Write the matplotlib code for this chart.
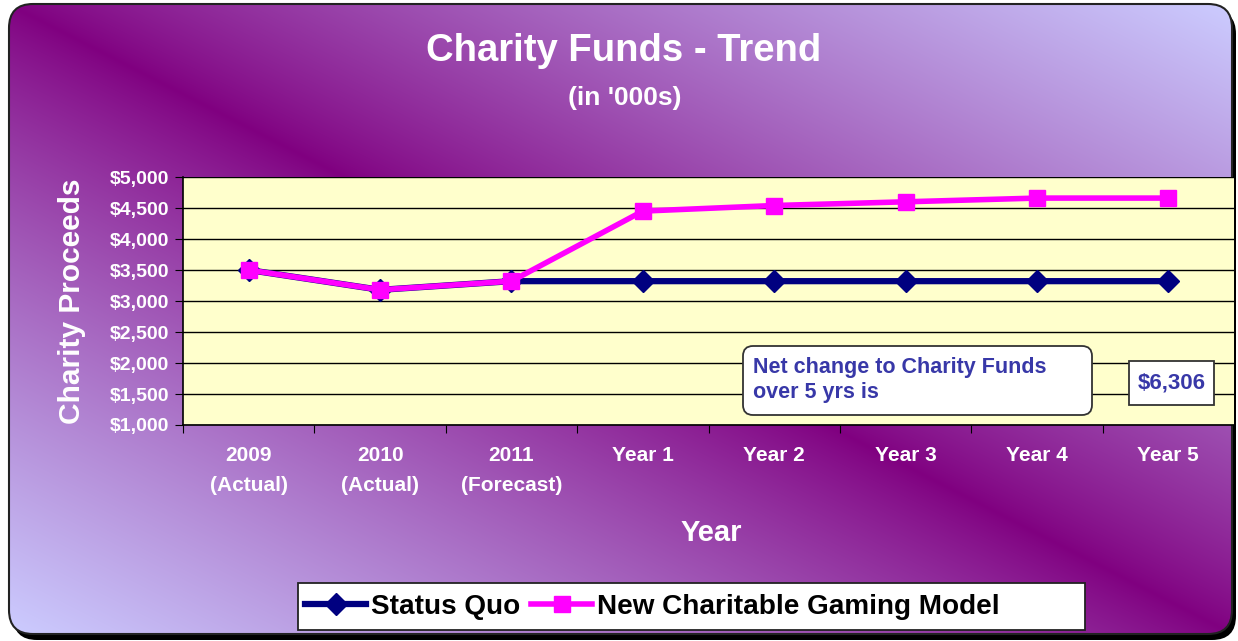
import numpy as np
import matplotlib
matplotlib.use("Agg")
import matplotlib.pyplot as plt
from matplotlib.patches import FancyBboxPatch, Rectangle
from matplotlib.lines import Line2D
from matplotlib.colors import to_rgb

# ---- data ----
categories = ["2009\n(Actual)", "2010\n(Actual)", "2011\n(Forecast)",
              "Year 1", "Year 2", "Year 3", "Year 4", "Year 5"]
status_quo = [3500, 3180, 3320, 3320, 3320, 3320, 3320, 3320]
new_model = [3500, 3180, 3320, 4450, 4540, 4600, 4660, 4660]
y_ticks = [1000, 1500, 2000, 2500, 3000, 3500, 4000, 4500, 5000]
series_names = ["Status Quo", "New Charitable Gaming Model"]
net_change_text = "Net change to Charity Funds\nover 5 yrs is"
net_change_value = "$6,306"

plt.rcParams['font.family'] = ['Liberation Sans', 'DejaVu Sans']

W, H = 1238, 641
fig = plt.figure(figsize=(W / 100, H / 100), dpi=100)
fig.patch.set_facecolor('white')

# ---- background (chart area with gradient) ----
bg = fig.add_axes([0, 0, 1, 1])
bg.set_xlim(0, W)
bg.set_ylim(H, 0)
bg.axis('off')

cx0, cy0, cx1, cy1 = 9, 4, 1232, 634
rad = 24
shadow = FancyBboxPatch((cx0 + 4, cy0 + 6), cx1 - cx0, cy1 - cy0,
                        boxstyle=f"round,pad=0,rounding_size={rad}",
                        facecolor='black', edgecolor='none', zorder=0)
bg.add_patch(shadow)
clip = FancyBboxPatch((cx0, cy0), cx1 - cx0, cy1 - cy0,
                      boxstyle=f"round,pad=0,rounding_size={rad}",
                      facecolor='none', edgecolor='#222222', lw=1.5, zorder=3)
bg.add_patch(clip)

nx, ny = 620, 320
u = np.linspace(0, 1, nx)[None, :]
v = np.linspace(0, 1, ny)[:, None]
d = np.abs(u - v) ** 0.85
dark = np.array(to_rgb('#800080'))
light = np.array(to_rgb('#CCCCFF'))
img = dark[None, None, :] + (light - dark)[None, None, :] * d[:, :, None]
im = bg.imshow(img, extent=(cx0, cx1, cy1, cy0), aspect='auto',
               interpolation='bilinear', zorder=1)
im.set_clip_path(clip)

# legend frame (drawn on background layer)
bg.add_patch(Rectangle((298, 583), 1085 - 298, 630 - 583, facecolor='white',
                       edgecolor='#222222', lw=1.3, zorder=4))

# ---- plot area ----
left, right, top, bottom = 183, 1234, 177, 425
ax = fig.add_axes([left / W, 1 - bottom / H, (right - left) / W, (bottom - top) / H])
ax.set_facecolor('#FFFFCC')
x = np.arange(len(categories))
ax.set_xlim(-0.5, len(categories) - 0.5)
ax.set_ylim(1000, 5000)
ax.set_yticks(y_ticks)
ax.set_yticklabels([f"${t:,}" for t in y_ticks], color='white',
                   fontsize=14, fontweight='bold')
ax.grid(axis='y', color='black', lw=1)
ax.set_axisbelow(True)
ax.set_xticks(np.arange(-0.5, len(categories)), labels=[])
ax.set_xticks(x, minor=True)
ax.set_xticklabels(categories, minor=True, color='white', fontsize=15,
                   fontweight='bold', linespacing=1.75)
ax.tick_params(axis='x', which='minor', length=0, pad=15)
ax.tick_params(axis='x', which='major', length=6, direction='out', color='black')
ax.tick_params(axis='y', length=6, direction='out', color='black', pad=4)
for s in ['top', 'right']:
    ax.spines[s].set_visible(False)
for s in ['left', 'bottom']:
    ax.spines[s].set_color('black')
    ax.spines[s].set_linewidth(1.2)

ax.plot(x, status_quo, color='#000080', lw=4.5, marker='D', markersize=11,
        zorder=3, clip_on=False)
ax.plot(x, new_model, color='#FF00FF', lw=4, marker='s', markersize=12,
        zorder=4, clip_on=False)

# ---- overlay for annotation boxes ----
ov = fig.add_axes([0, 0, 1, 1], zorder=10)
ov.set_xlim(0, W)
ov.set_ylim(H, 0)
ov.axis('off')
ov.patch.set_alpha(0)
ov.add_patch(FancyBboxPatch((743, 346), 1092 - 743, 415 - 346,
                            boxstyle="round,pad=0,rounding_size=10",
                            facecolor='white', edgecolor='#333333', lw=1.3))
ov.text(753, 380, net_change_text, color='#3838A8', fontsize=15.5,
        fontweight='bold', va='center', ha='left', linespacing=1.3)
ov.add_patch(Rectangle((1129, 361), 1214 - 1129, 405 - 361,
                       facecolor='white', edgecolor='#333333', lw=1.3))
ov.text(1171.5, 383.5, net_change_value, color='#3838A8', fontsize=16,
        fontweight='bold', va='center', ha='center')

# titles
fig.text(624 / W, 1 - 51 / H, "Charity Funds - Trend", color='white',
         fontsize=27.5, fontweight='bold', ha='center', va='center')
fig.text(625 / W, 1 - 98 / H, "(in '000s)", color='white',
         fontsize=19, fontweight='bold', ha='center', va='center')
fig.text(72 / W, 1 - 301 / H, "Charity Proceeds", color='white',
         fontsize=21.5, fontweight='bold', ha='center', va='center', rotation=90)
fig.text(711 / W, 1 - 533 / H, "Year", color='white',
         fontsize=21, fontweight='bold', ha='center', va='center')

# legend
handles = [Line2D([], [], color='#000080', lw=4.5, marker='D', markersize=11),
           Line2D([], [], color='#FF00FF', lw=4, marker='s', markersize=12)]
leg = fig.legend(handles, series_names,
                 loc='center left', bbox_to_anchor=(305 / W, 1 - 607 / H), ncol=2,
                 frameon=False, prop={'size': 20.1, 'weight': 'bold'},
                 handlelength=2.2, handletextpad=0.15, columnspacing=0.4,
                 borderpad=0.0, borderaxespad=0.0)

fig.savefig('out.png', dpi=100, facecolor='white')
